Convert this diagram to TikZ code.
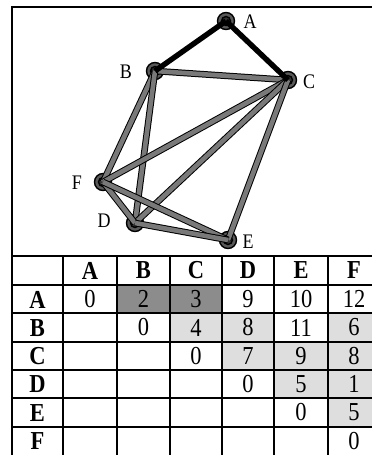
\documentclass[tikz,border=0pt]{standalone}
\usepackage{fontspec}
\usepackage{graphicx}
\setmainfont{Liberation Serif}
\newcommand{\tall}[1]{\scalebox{1}[1.15]{#1}}
\begin{document}
\begin{tikzpicture}[x=1pt,y=-1pt,
  vert/.style={circle,draw=black,line width=1.4pt,fill=gray!70!black,minimum size=17pt,inner sep=0pt},
  lbl/.style={font=\fontsize{18}{20}\selectfont,inner sep=0pt},
  gedge/.style={draw=black,line width=1pt,double=gray!95!black,double distance=4.6pt},
  bedge/.style={draw=black,line width=5.4pt},
  cell/.style={font=\fontsize{22.5}{25}\selectfont,inner sep=0pt},
  hcell/.style={font=\bfseries\fontsize{22.5}{25}\selectfont,inner sep=0pt},
  grid/.style={line width=1.7pt}]
\useasboundingbox (0,0) rectangle (372,455);
\clip (0,0) rectangle (372,455);
\fill[white] (0,0) rectangle (372,455);
% shading
\fill[gray!90] (117,285) rectangle (222,313);
\fill[black!13] (170,313) rectangle (274,342);
\fill[black!13] (328,313) rectangle (390,342);
\fill[black!13] (222,342) rectangle (390,370);
\fill[black!13] (274,370) rectangle (390,398);
\fill[black!13] (328,398) rectangle (390,427);
% frame
\draw[line width=2.2pt] (12,470) -- (12,7) -- (390,7);
% table grid
\foreach \y in {256,285,313,342,370,398,427} \draw[grid] (12,\y) -- (390,\y);
\foreach \x in {63,117,170,222,274,328} \draw[grid] (\x,256) -- (\x,470);
% vertices
\node[vert] (A) at (226,21) {};
\node[vert] (B) at (155,71) {};
\node[vert] (C) at (288,80) {};
\node[vert] (F) at (103,182) {};
\node[vert] (D) at (135,223) {};
\node[vert] (E) at (228,240) {};
\foreach \n in {A,B,C,D,E,F} \draw[line width=1.4pt,fill=gray!40!black] (\n.center) circle (4.5pt);
% edges
\draw[gedge] (B.center) -- (C.center);
\draw[gedge] (B.center) -- (F.center);
\draw[gedge] (B.center) -- (D.center);
\draw[gedge] (C.center) -- (F.center);
\draw[gedge] (C.center) -- (D.center);
\draw[gedge] (C.center) -- (E.center);
\draw[gedge] (F.center) -- (D.center);
\draw[gedge] (F.center) -- (E.center);
\draw[gedge] (D.center) -- (E.center);
\draw[bedge] (A.center) -- (B.center);
\draw[bedge] (A.center) -- (C.center);
% labels
\node[lbl] (lA) at (250,22) {\tall{A}};
\node[lbl] (lB) at (126,72) {\tall{B}};
\node[lbl] (lC) at (309,82) {\tall{C}};
\node[lbl] (lF) at (77,183) {\tall{F}};
\node[lbl] (lD) at (104,221) {\tall{D}};
\node[lbl] (lE) at (248,242) {\tall{E}};
% headers
\node[hcell] (hA) at (90,270.5) {\tall{A}};
\node[hcell] (hB) at (143.5,270.5) {\tall{B}};
\node[hcell] (hC) at (196,270.5) {\tall{C}};
\node[hcell] (hD) at (248,270.5) {\tall{D}};
\node[hcell] (hE) at (301,270.5) {\tall{E}};
\node[hcell] (hF) at (354,270.5) {\tall{F}};
\node[hcell] (rA) at (37.5,299.5) {\tall{A}};
\node[hcell] (rB) at (37.5,328) {\tall{B}};
\node[hcell] (rC) at (37.5,356.5) {\tall{C}};
\node[hcell] (rD) at (37.5,384.5) {\tall{D}};
\node[hcell] (rE) at (37.5,413) {\tall{E}};
\node[hcell] (rF) at (37.5,441.5) {\tall{F}};
% values
\node[cell] (aa) at (90,299) {\tall{0}};
\node[cell] (ab) at (143.5,299) {\tall{2}};
\node[cell] (ac) at (196,299) {\tall{3}};
\node[cell] (ad) at (248,299) {\tall{9}};
\node[cell] (ae) at (301,299) {\tall{10}};
\node[cell] (af) at (354,299) {\tall{12}};
\node[cell] (bb) at (143.5,327.5) {\tall{0}};
\node[cell] (bc) at (196,327.5) {\tall{4}};
\node[cell] (bd) at (248,327.5) {\tall{8}};
\node[cell] (be) at (301,327.5) {\tall{11}};
\node[cell] (bf) at (354,327.5) {\tall{6}};
\node[cell] (cc) at (196,356) {\tall{0}};
\node[cell] (cd) at (248,356) {\tall{7}};
\node[cell] (ce) at (301,356) {\tall{9}};
\node[cell] (cf) at (354,356) {\tall{8}};
\node[cell] (dd) at (248,384) {\tall{0}};
\node[cell] (de) at (301,384) {\tall{5}};
\node[cell] (df) at (354,384) {\tall{1}};
\node[cell] (ee) at (301,412.5) {\tall{0}};
\node[cell] (ef) at (354,412.5) {\tall{5}};
\node[cell] (ff) at (354,441) {\tall{0}};
\end{tikzpicture}
\end{document}
